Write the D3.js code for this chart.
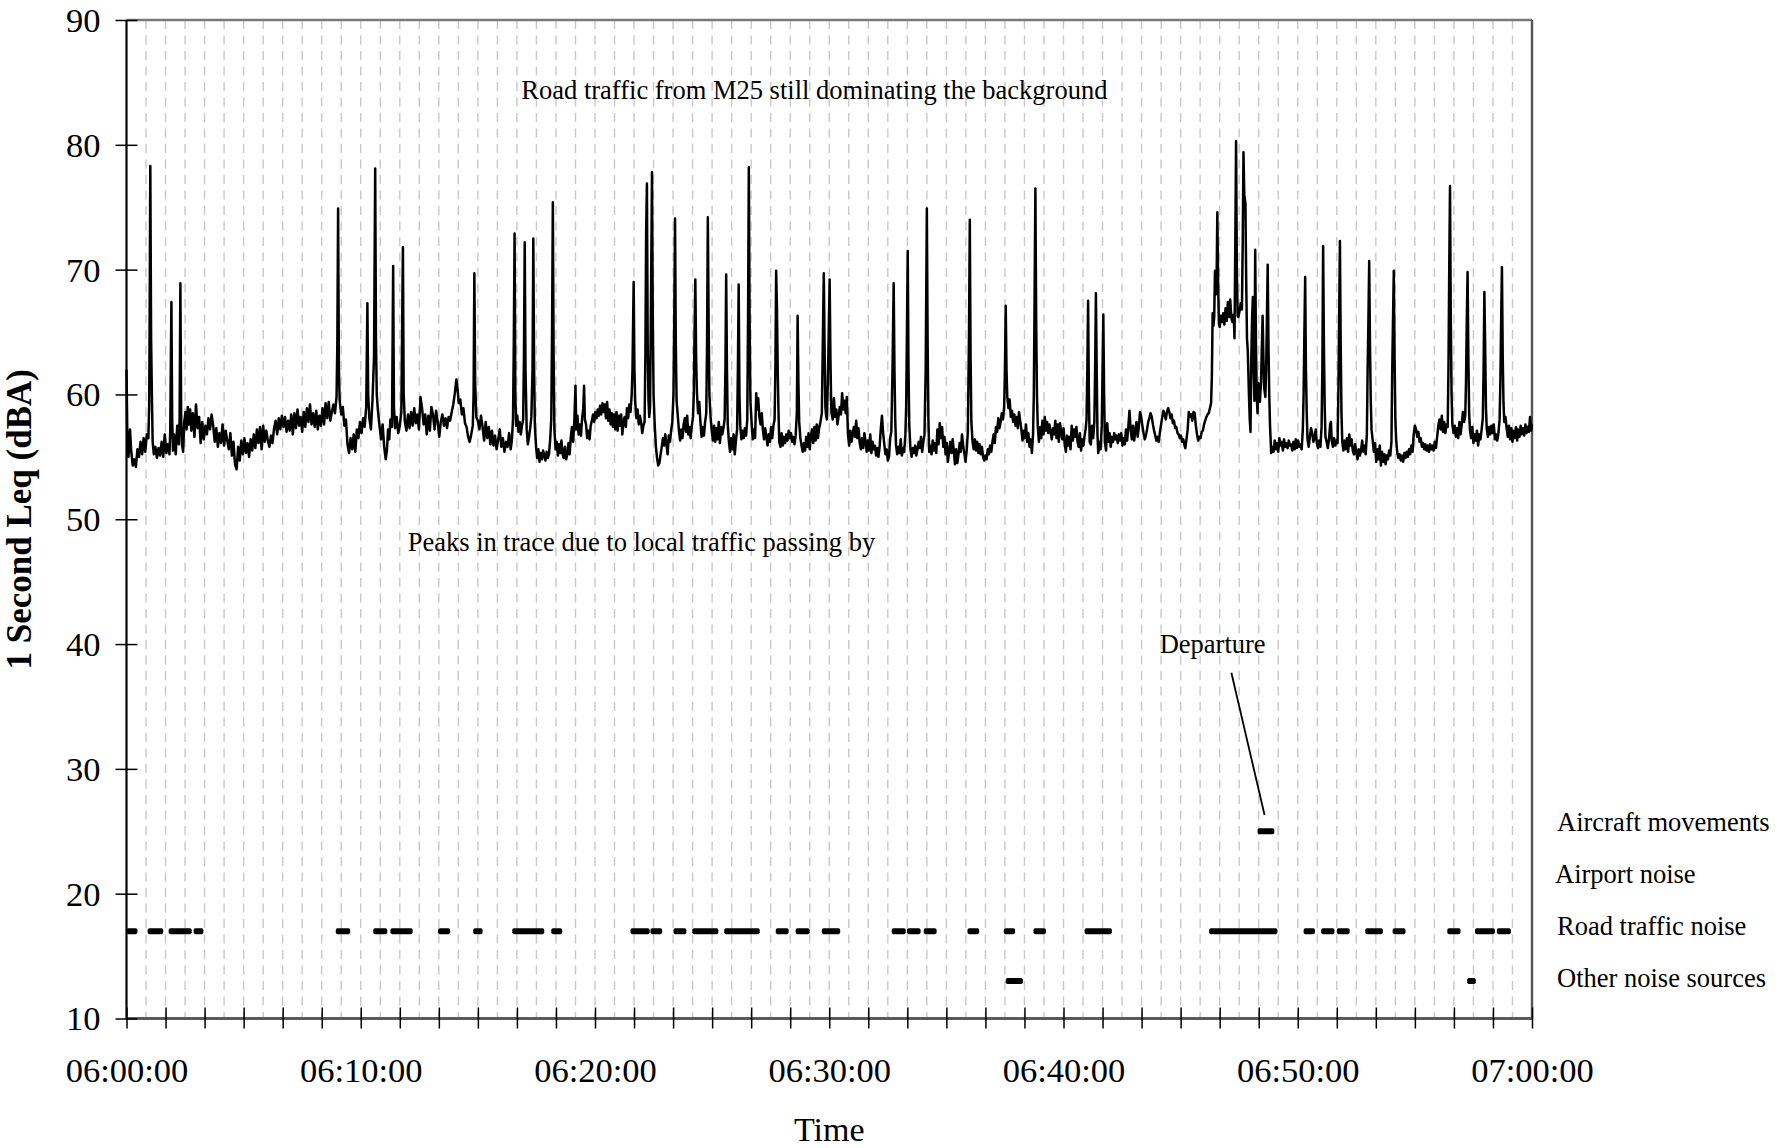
<!DOCTYPE html>
<html><head><meta charset="utf-8">
<script src="https://cdn.jsdelivr.net/npm/d3@7/dist/d3.min.js"></script>
<style>
body{margin:0;background:#fff;}
svg{display:block;}
text{font-family:"Liberation Serif","Times New Roman",serif;fill:#000;}
</style></head><body>
<svg id="chart" width="1789" height="1148"></svg>
<script>
// ---------------- DATA ----------------
const yTicks=[10,20,30,40,50,60,70,80,90];
const xTickLabels=["06:00:00","06:10:00","06:20:00","06:30:00","06:40:00","06:50:00","07:00:00"];
// 1-second Leq trace, [seconds after 06:00:00, dBA]
const leq0600=[[0,62],[2,57],[5,55],[9,57.2],[12,55.5],[16,54.3],[20,54.8],[24,54.2],[28,55.6],[32,55],[36,56.2],[40,55.2],[44,56.5],[48,55.4],[52,56.8],[56,56.5],[58,59],[59,64],[61,78.3],[63,64.5],[65,60],[67,56.2],[70,55.2],[74,55.8],[78,54.9],[82,55.7],[86,55.1],[90,56.2],[94,55],[98,56.8],[102,55.3],[106,56],[110,55.2],[112,57],[115,67.4],[117,58],[119,55.5],[122,56.8],[126,55.2],[130,57.5],[134,56],[136,58],[138,68.9],[140,58.2],[142,56],[145,55.4],[148,57.8],[151,58.6],[154,57.2],[157,59],[160,57.6],[163,58.8],[166,57.1],[170,58.5],[174,56.6],[178,59.2],[182,57.3],[186,58.2],[190,56.1],[194,57.8],[198,56.4],[202,57.5],[206,56.8],[210,58.1],[214,57.2],[218,58.4],[222,57.5],[226,56.2],[230,57.3],[234,55.8],[238,56.9],[242,56.1],[246,57.6],[250,55.9],[254,57.1],[258,56.3],[262,55.6],[266,56.9],[270,55.1],[274,56.2],[278,54.4],[282,54],[286,55.8],[290,54.7],[294,56.3],[298,55.2],[302,56.5],[306,55.3],[310,56.1],[314,55],[318,56.4],[322,55.5],[326,56.8],[330,55.7],[334,57.2],[338,56.1],[342,57.4],[346,55.6],[350,57.5],[354,56.2],[358,57.1],[362,56.3],[366,55.8],[370,56.7],[374,56.1],[378,57.3],[382,57.9],[386,56.8],[390,58.1],[394,57.2],[398,58.3],[402,57.4],[406,58.2],[410,57],[414,57.9],[418,57.1],[422,58.4],[426,56.8],[430,58.5],[434,57.3],[438,58.8],[442,57.5],[446,58.2],[450,57],[454,58.6],[458,57.4],[462,58.9],[466,57.8],[470,59.2],[474,57.6],[478,58.5],[482,57.4],[486,58.7],[490,57.2],[494,58.3],[498,57.5],[502,58.9],[506,57.6],[510,59.3],[514,58.1],[518,59.4],[522,57.9],[526,58.6],[530,59.2],[534,58.5],[538,59.8],[540,64],[542,74.9],[544,62],[546,59.5],[550,58.4],[554,59],[558,57.5],[562,58],[566,56],[570,55.3],[574,56.5],[578,55.6],[582,56.8],[586,55.4],[590,57.2],[594,56.5],[598,57.8],[602,56.9],[606,58.1],[610,57.4],[614,59],[617,67.3],[619,60],[622,58.1],[626,57.2],[630,59.5],[634,63],[637,78.1],[639,64.5],[641,60],[644,58.7],[648,57.5],[652,56.4],[656,57.6],[660,55.8],[664,54.8],[667,55.5],[670,57.2],[673,56.4],[676,58],[680,57.4],[683,70.3],[685,59],[688,57.3],[692,58.2],[696,56.9],[700,57.5],[704,58.6],[708,71.8],[710,60],[713,57.8],[717,57.1],[721,58.4],[725,57.3],[729,58.6],[733,57.5],[737,58.9],[741,57.7],[745,58.4],[749,57.2],[753,59.8],[757,58.9],[761,57.6],[765,58.4],[769,56.8],[773,58.3],[777,57.1],[781,59],[785,58.4],[789,57.2],[793,58.7],[797,57.8],[801,56.6],[805,57.8],[809,58.4],[813,57.5],[817,58.1],[821,57.3],[825,58.2],[829,57.9],[833,58.6],[837,59.2],[841,60.1],[845,61.2],[848,60.4],[851,59.3],[855,59.6],[859,58.4],[863,58.9],[867,57.7],[871,57.4],[875,56.6],[879,56.2],[883,56.8],[887,57.5],[889,60],[891,69.7],[893,61],[896,58.2]];
const leq0615=[[900,57.9],[904,57.2],[908,58.3],[912,57.4],[916,56.3],[920,57.8],[924,56.5],[928,57.4],[932,56],[936,57.1],[940,55.9],[944,56.7],[948,55.6],[952,56.4],[956,57.2],[960,55.8],[964,56.5],[968,55.4],[972,56.2],[976,55.8],[980,56.9],[984,55.6],[987,56.3],[990,58],[992,64],[994,72.9],[996,60],[998,57.5],[1001,58.3],[1004,57],[1007,57.8],[1010,56.8],[1013,57.5],[1016,58],[1018,63],[1020,72.2],[1022,62],[1025,57.2],[1028,56],[1031,56.6],[1034,57.3],[1037,58.2],[1040,62],[1042,72.5],[1044,62],[1046,57.5],[1049,55.8],[1052,54.9],[1055,55.6],[1058,54.6],[1061,55.3],[1064,54.8],[1067,55.5],[1070,55.1],[1073,54.7],[1076,55.4],[1079,54.9],[1082,55.2],[1085,56.3],[1088,58],[1090,65],[1092,75.4],[1094,63],[1096,57.2],[1099,55.6],[1102,56.2],[1105,55.1],[1108,56],[1111,55.3],[1114,56.3],[1117,55.2],[1120,54.9],[1123,55.8],[1126,54.8],[1129,55.2],[1132,56.1],[1135,55.2],[1138,56.6],[1141,57.4],[1144,56.2],[1147,57.8],[1150,60.7],[1152,57.2],[1155,58.3],[1158,56.8],[1161,57.6],[1164,56.7],[1167,58.1],[1170,58.9],[1172,60.7],[1174,58],[1177,57.6],[1180,56.5],[1183,57.1],[1186,56.4],[1189,57.5],[1192,57.9],[1195,58.4],[1198,57.8],[1201,58.6],[1204,58.1],[1207,58.8],[1210,58.3],[1213,59.1],[1216,58.4],[1219,59.3],[1222,58.6],[1225,59.2],[1228,58.1],[1231,59.4],[1234,57.9],[1237,58.8],[1240,57.6],[1243,58.5],[1246,57.4],[1249,58.4],[1252,57.2],[1255,58.6],[1258,57.1],[1261,58.3],[1264,57.5],[1267,58.4],[1270,56.8],[1273,57.8],[1276,58.2],[1279,57.4],[1282,58.9],[1285,58.1],[1288,59.2],[1291,58.6],[1294,60],[1296,62],[1299,69],[1301,62],[1303,59.4],[1306,58.1],[1309,58.8],[1312,57.6],[1315,58.3],[1318,57.8],[1321,56.9],[1324,57.5],[1327,57.8],[1329,63],[1331,73],[1333,76.9],[1335,64],[1337,59.5],[1339,58.2],[1341,59],[1343,66],[1346,77.8],[1348,66],[1350,60],[1353,57.5],[1356,55.8],[1359,54.9],[1362,54.3],[1365,54.5],[1368,55.2],[1371,55.8],[1374,56.5],[1377,55.9],[1380,56.8],[1383,56],[1386,55.2],[1389,56.7],[1392,56.2],[1395,57.1],[1398,57.8],[1401,60],[1403,66],[1405,74.1],[1407,64],[1409,59.5],[1412,58.3],[1415,57.1],[1418,56.3],[1421,57.2],[1424,56.5],[1427,57.6],[1430,58.1],[1433,57],[1436,58.3],[1439,56.8],[1442,57.4],[1445,56.5],[1448,57.5],[1451,58.2],[1453,60],[1455,65],[1457,69.2],[1459,63],[1461,60.2],[1464,58.5],[1467,59.4],[1470,57.8],[1473,56.6],[1476,57.4],[1479,56.7],[1482,57.8],[1485,58.5],[1487,64],[1489,74.2],[1491,66],[1493,60],[1496,58.2],[1499,57.1],[1502,56.3],[1505,57.5],[1508,56.2],[1511,57.3],[1514,56.4],[1517,57.8],[1520,56.1],[1523,57.4],[1526,56.8],[1529,57.3],[1532,58],[1534,62],[1536,69.6],[1538,62],[1540,57.6],[1543,56.2],[1546,55.4],[1549,56.5],[1552,55.6],[1555,56.8],[1558,55.2],[1561,56.3],[1564,57.2],[1566,62],[1568,68.8],[1570,60],[1572,57.5],[1575,56.4],[1578,57.1],[1581,56.5],[1584,57.3],[1587,56.7],[1590,58],[1592,66],[1594,78.2],[1596,66],[1598,59.5],[1601,57.8],[1604,56.4],[1607,57.2],[1610,56.5],[1613,60.1],[1615,58.8],[1618,59.7],[1621,58.2],[1624,57.6],[1627,58.5],[1630,57.2],[1633,56.4],[1636,57.3],[1639,56.6],[1642,55.9],[1645,56.8],[1648,56.2],[1651,57.4],[1654,56.5],[1657,57.5],[1660,58],[1662,62],[1664,69.9],[1666,67],[1668,62],[1670,58.6],[1672,56.2],[1675,55.8],[1678,56.9],[1681,55.9],[1684,56.6],[1687,56.1],[1690,56.8],[1693,56.3],[1696,57.1],[1699,56.5],[1702,56.9],[1705,56.2],[1708,56.6],[1711,56],[1714,56.7],[1717,58.5],[1719,66.3],[1721,61],[1723,57.8],[1726,56.5],[1729,55.9],[1732,55.4],[1735,56.1],[1738,55.5],[1741,56.6],[1744,55.8],[1747,56.9],[1750,55.6],[1753,56.7],[1756,57.2],[1759,56.1],[1762,57.4],[1765,56.3],[1768,57.6],[1771,56.5],[1774,57.3],[1777,57.7],[1781,58.5],[1783,63],[1786,69.7],[1788,64],[1790,59],[1792,58.3],[1794,58],[1797,62],[1801,69.2],[1803,63],[1805,59]];
const leq0630=[[1806,58.5],[1809,58],[1812,59.7],[1815,58.2],[1818,58.8],[1821,57.6],[1824,58.3],[1827,59],[1830,58.4],[1833,60.1],[1836,58.8],[1839,59.5],[1842,58.5],[1845,59.8],[1848,56.8],[1851,55.9],[1854,57.1],[1857,56.2],[1860,56.8],[1863,57.4],[1866,56.6],[1869,57.9],[1872,56.5],[1875,57.3],[1878,56.1],[1881,55.6],[1884,56.5],[1887,55.7],[1890,56.9],[1893,56.2],[1896,55.4],[1899,56.3],[1902,55.5],[1905,56.8],[1908,55.3],[1911,56.2],[1914,55.6],[1917,55.9],[1920,55.1],[1923,55.7],[1926,55],[1929,55.8],[1932,57.2],[1935,58.3],[1938,56.9],[1941,56],[1944,55.2],[1947,55.6],[1950,54.7],[1953,55],[1956,56.5],[1959,57],[1962,62],[1965,68.9],[1967,62],[1969,58],[1971,56],[1974,55.2],[1977,55.8],[1980,55.3],[1983,56.4],[1986,55.1],[1989,55.7],[1992,55.4],[1995,56.8],[1997,59],[1999,65],[2001,71.5],[2003,62],[2005,57.5],[2008,55.6],[2011,55],[2014,55.7],[2017,55.3],[2020,55.9],[2023,55.1],[2026,55.6],[2029,56.2],[2032,55.7],[2035,56.6],[2038,55.4],[2041,56.2],[2044,56.8],[2047,62],[2050,74.9],[2052,64],[2054,58],[2056,55.4],[2059,55.9],[2062,55.2],[2065,56.3],[2068,55.5],[2071,56.1],[2074,55.3],[2077,57.2],[2080,56],[2083,57.7],[2086,56.5],[2089,57.4],[2092,55.8],[2095,56.6],[2098,55.2],[2101,56.1],[2104,54.6],[2107,55.5],[2110,56.2],[2113,55.3],[2116,56.4],[2119,55.5],[2122,54.4],[2125,55.6],[2128,54.5],[2131,55.2],[2134,56.1],[2137,55.4],[2140,56.8],[2143,55.9],[2146,55.3],[2149,54.6],[2152,55.5],[2155,57],[2158,65],[2160,74],[2162,63],[2164,57.8],[2167,56.2],[2170,55.6],[2173,56.4],[2176,55.5],[2179,56.2],[2182,55.3],[2185,56],[2188,55.2],[2191,55.8],[2194,55],[2197,54.7],[2200,55.1],[2203,54.8],[2206,55.6],[2209,55.2],[2212,55.9],[2215,55.4],[2218,56.2],[2221,56.8],[2224,56.1],[2227,57.4],[2230,57],[2233,58.1],[2236,57.3],[2239,57.8],[2242,58.5],[2245,58],[2248,59],[2250,62],[2252,67.1],[2254,62],[2256,59.8],[2259,58.9],[2262,59.6],[2265,58.2],[2268,58.7],[2271,57.8],[2274,58.4],[2277,57.5],[2280,58.2],[2283,57.3],[2286,58.6],[2289,57.9],[2292,57.2],[2295,56.3],[2298,57.1],[2301,56.5],[2304,57.6],[2307,56.2],[2310,56.9],[2313,55.8],[2316,56.4],[2319,55.3],[2322,56.8],[2324,60],[2326,68],[2328,76.5],[2330,66],[2332,60],[2334,57.5],[2337,56.2],[2340,57.4],[2343,56.5],[2346,57.9],[2349,56.8],[2352,58.2],[2355,57.1],[2358,57.8],[2361,56.9],[2364,57.6],[2367,57],[2370,56.4],[2373,57.3],[2376,56.8],[2379,57.9],[2382,56.5],[2385,57.6],[2388,56.2],[2391,57.7],[2394,57],[2397,56.4],[2400,57.3],[2403,56.1],[2406,55.4],[2409,56.7],[2412,55.9],[2415,56.6],[2418,55.6],[2421,57.5],[2424,56.3],[2427,57.2],[2430,56.6],[2433,57.4],[2436,56.2],[2439,55.8],[2442,56.9],[2445,55.5],[2448,56.4],[2451,55.9],[2454,56.7],[2457,57.3],[2459,58],[2461,62],[2463,67.5],[2465,60],[2467,56.2],[2470,56],[2473,57.5],[2476,56.5],[2479,57.8],[2481,62],[2483,68.1],[2485,62],[2487,56.8],[2489,55.3],[2492,56.2],[2495,55.6],[2498,57.5],[2500,62],[2502,66.4],[2504,60],[2506,56.2],[2509,55.5],[2512,57.7],[2515,56.2],[2518,56.9],[2521,55.8],[2524,56.6],[2527,56.2],[2530,56.9],[2533,56.4],[2536,56.7],[2539,56.1],[2542,56.8],[2545,56.3],[2548,56.9],[2551,55.9],[2554,56.5],[2557,56],[2560,57.2],[2563,56.3],[2566,57.4],[2569,58.7],[2572,57.2],[2575,56.4],[2578,57.5],[2581,56.3],[2584,57.1],[2587,57.8],[2590,56.6],[2593,57.4],[2596,58.6],[2599,58.2],[2602,57.5],[2605,56.9],[2608,56.4],[2611,56.7],[2614,57.2],[2617,57.8],[2620,58.1],[2623,58.5],[2626,58.2],[2629,57.6],[2632,57.1],[2635,56.7],[2638,56.3],[2641,56.6],[2644,56.2],[2647,57],[2650,57.6],[2653,58.2],[2656,58.7],[2659,58.4],[2662,58],[2665,58.6],[2668,58.9]];
const leq0645=[[2671,58.6],[2674,58.1],[2677,58.4],[2680,57.7],[2683,57.9],[2686,57.3],[2689,57.4],[2692,56.9],[2695,56.8],[2698,56.5],[2701,56.7],[2704,56.2],[2707,56.4],[2710,55.9],[2712,55.7],[2715,56.4],[2718,57.2],[2721,58.6],[2724,58.2],[2727,58.4],[2730,57.9],[2733,58.6],[2736,58.5],[2739,57.5],[2742,56.8],[2745,56.3],[2748,56.6],[2751,56.5],[2754,57],[2757,57.1],[2760,57.6],[2763,57.9],[2766,58.2],[2769,58.4],[2772,58.5],[2775,58.9],[2778,59.3],[2780,61.4],[2782,66.5],[2784,65.5],[2786,66.2],[2788,69.9],[2790,68],[2792,68.6],[2794,74.6],[2796,69],[2798,65.7],[2800,65.4],[2803,66.3],[2806,65.8],[2809,66.5],[2812,65.6],[2815,66.9],[2818,65.9],[2821,67.4],[2824,66.2],[2827,67.6],[2830,66.1],[2833,65.8],[2836,66.4],[2838,64.5],[2840,72],[2842,80.3],[2844,70],[2846,66.3],[2848,66.2],[2851,66.7],[2854,67.3],[2857,66.8],[2859,72],[2861,79.4],[2863,76],[2866,75.3],[2868,69],[2870,64.5],[2872,63.5],[2875,60],[2877,58],[2879,57],[2881,63],[2883,66],[2885,67.8],[2887,62],[2889,59.5],[2891,71.6],[2893,64],[2895,59.8],[2897,58.5],[2899,60.9],[2901,60],[2903,59.4],[2906,61],[2908,63.8],[2910,66.3],[2912,63],[2914,60.5],[2917,59.8],[2919,62],[2921,66],[2923,70.4],[2925,64],[2927,60],[2929,57.5],[2932,55.3],[2935,55.8],[2938,55.4],[2941,56.3],[2944,55.6],[2947,56.1],[2950,55.4],[2953,56.5],[2956,55.9],[2959,56.2],[2962,55.5],[2965,56.4],[2968,55.8],[2971,56.1],[2974,55.7],[2977,56.3],[2980,55.9],[2983,56],[2986,55.5],[2989,56.2],[2992,55.6],[2995,56.4],[2998,55.7],[3001,56.3],[3004,55.8],[3007,56],[3010,55.6],[3013,57.2],[3015,60],[3017,65],[3019,69.4],[3021,62],[3023,58.5],[3025,56.4],[3028,55.8],[3031,56.6],[3034,57.3],[3037,56.9],[3040,56.2],[3043,56.5],[3046,57.2],[3049,56.1],[3052,55.7],[3055,56.3],[3058,55.8],[3061,57.4],[3063,62],[3065,71.9],[3067,64],[3069,59],[3071,56.6],[3074,56.2],[3077,55.7],[3080,56.4],[3083,57.6],[3085,57.8],[3087,56.3],[3090,55.8],[3093,56.5],[3096,55.9],[3099,56.3],[3102,56.1],[3104,60],[3106,66],[3108,72.3],[3110,64],[3112,58.5],[3114,56.2],[3117,55.5],[3120,56.3],[3123,55.6],[3126,56.5],[3129,55.4],[3132,56.8],[3135,55.9],[3138,56.4],[3141,55.5],[3144,55.2],[3147,56],[3150,55.4],[3153,54.8],[3156,55.6],[3159,55.1],[3162,55.5],[3165,56.3],[3168,55.4],[3171,55.9],[3174,55.2],[3177,56.8],[3179,62],[3181,66],[3183,70.7],[3185,64],[3187,59.5],[3189,57.2],[3192,56.3],[3195,55.4],[3198,56.1],[3201,54.6],[3204,55.6],[3207,54.8],[3210,55.9],[3213,54.3],[3216,55.4],[3219,54.6],[3222,55.2],[3225,54.4],[3228,55.1],[3231,54.8],[3234,55.5],[3237,55.1],[3240,56.2],[3242,62],[3244,66],[3246,69.9],[3248,63],[3250,58],[3252,56.4],[3255,55.3],[3258,54.9],[3261,55.2],[3264,54.7],[3267,55.1],[3270,54.6],[3273,55.3],[3276,54.9],[3279,55.4],[3282,55],[3285,55.6],[3288,55.2],[3291,55.9],[3294,55.4],[3297,56.8],[3300,57.5],[3303,57.2],[3306,56.6],[3309,57],[3312,56.2],[3315,56.5],[3318,55.8],[3321,56.1],[3324,55.6],[3327,56],[3330,55.5],[3333,55.9],[3336,55.4],[3339,56],[3342,55.6],[3345,55.9],[3348,55.5],[3351,56.2],[3354,55.7],[3357,56.6],[3360,57.5],[3363,58],[3366,57.2],[3369,58.3],[3372,57],[3375,57.8],[3378,56.9],[3381,57.6],[3384,57.4],[3386,62],[3388,70],[3390,76.7],[3392,66],[3394,60],[3396,57.6],[3399,56.9],[3402,57.5],[3405,56.6],[3408,57.3],[3411,56.5],[3414,57.8],[3417,56.8],[3420,57.6],[3423,58.6],[3426,57.8],[3429,58.3],[3431,61],[3433,66],[3435,69.8],[3437,63],[3439,58.5],[3441,57.2],[3444,56.5],[3447,57.4],[3450,56.1],[3453,56.8],[3456,56.3],[3459,57.1],[3462,55.9],[3465,56.8],[3468,56.4],[3471,57.2],[3474,58.1],[3476,62],[3478,68.2],[3480,64],[3482,59],[3484,57.3],[3487,56.6],[3490,57.4],[3493,56.8],[3496,57.5],[3499,56.9],[3502,57.6],[3505,56.4],[3508,56.8],[3511,56.3],[3514,56.9],[3517,58],[3519,61],[3521,66],[3523,70.2],[3525,63],[3527,59.3],[3529,57.8],[3532,58.2],[3535,57.3],[3538,56.6],[3541,57.5],[3544,56.4],[3547,57.3],[3550,56.2],[3553,57.1],[3556,56.5],[3559,57.4],[3562,56.3],[3565,57.2],[3568,56.6],[3571,57.5],[3574,56.8],[3577,57.3],[3580,56.7],[3583,57.6],[3586,56.9],[3589,57.4],[3592,57],[3595,58.2],[3598,57.1],[3600,57.6]];

// noise-source identification periods [start s, end s]
const aircraftMovements=[[2897,2940]];
const airportNoise=[];
const roadTrafficNoise=[[0,28],[54,94],[108,167],[172,197],[536,573],[632,668],[676,733],[798,829],[888,912],[988,1070],[1088,1116],[1291,1340],[1342,1372],[1401,1434],[1449,1516],[1531,1622],[1663,1696],[1714,1750],[1781,1828],[1960,1996],[1999,2034],[2042,2075],[2154,2184],[2247,2276],[2323,2355],[2454,2524],[2773,2948],[3015,3044],[3060,3094],[3100,3133],[3173,3218],[3243,3276],[3383,3417],[3454,3505],[3510,3546]];
const otherNoiseSources=[[2252,2296],[3434,3456]];
const sourceNames=["Aircraft movements","Airport noise","Road traffic noise","Other noise sources"];
const sourceLevels=[25,21,17,13];
const sourcePeriods=[aircraftMovements,airportNoise,roadTrafficNoise,otherNoiseSources];

// ---------------- CHART ----------------
const FONT='"Liberation Serif","Times New Roman",serif';
const svg=d3.select("#chart");
const x=d3.scaleLinear().domain([0,3600]).range([126.5,1532]);
const y=d3.scaleLinear().domain([10,90]).range([1018.5,20]);

// vertical dashed gridlines every 50 s
svg.append("g").selectAll("line").data(d3.range(50,3600,50)).join("line")
  .attr("x1",d=>x(d)).attr("x2",d=>x(d)).attr("y1",y(90)).attr("y2",y(10))
  .attr("stroke","#c8c8c8").attr("stroke-width",1.4).attr("stroke-dasharray","9,6.5");

// frame
svg.append("line").attr("x1",x(0)).attr("x2",x(3600)).attr("y1",y(90)).attr("y2",y(90)).attr("stroke","#7a7a7a").attr("stroke-width",2.6);
svg.append("line").attr("x1",x(3600)).attr("x2",x(3600)).attr("y1",y(90)).attr("y2",y(10)).attr("stroke","#555").attr("stroke-width",2.4);
svg.append("line").attr("x1",x(0)).attr("x2",x(3600)).attr("y1",y(10)).attr("y2",y(10)).attr("stroke","#5a5a5a").attr("stroke-width",2.8);
svg.append("line").attr("x1",x(0)).attr("x2",x(0)).attr("y1",y(90)).attr("y2",y(10)).attr("stroke","#000").attr("stroke-width",2.2);

// trace
const trace=leq0600.concat(leq0615,leq0630,leq0645);
svg.append("path").datum(trace)
  .attr("d",d3.line().x(d=>x(d[0])).y(d=>y(d[1])))
  .attr("fill","none").attr("stroke","#000").attr("stroke-width",2.5)
  .attr("stroke-linejoin","round");

// source bars
sourcePeriods.forEach((periods,i)=>{
  svg.append("g").selectAll("rect").data(periods).join("rect")
    .attr("x",d=>x(d[0])).attr("width",d=>x(d[1])-x(d[0]))
    .attr("y",y(sourceLevels[i])-3).attr("height",6).attr("rx",1.8)
    .attr("fill","#000");
});

// axes
const xAxis=d3.axisBottom(x).tickValues(d3.range(0,3601,100))
  .tickFormat(d=> d%600===0 ? xTickLabels[d/600] : "");
const gx=svg.append("g").attr("transform",`translate(0,${y(10)})`).call(xAxis);
gx.attr("font-family",FONT).attr("font-size",34.5);
gx.select(".domain").remove();
gx.selectAll(".tick line").attr("y1",-11).attr("y2",10).attr("stroke","#000").attr("stroke-width",1.5);
gx.selectAll(".tick text").attr("y",63).attr("dy",null).attr("fill","#000");

const yAxis=d3.axisLeft(y).tickValues(yTicks).tickFormat(d3.format("d"));
const gy=svg.append("g").attr("transform",`translate(${x(0)},0)`).call(yAxis);
gy.attr("font-family",FONT).attr("font-size",34.5);
gy.select(".domain").remove();
gy.selectAll(".tick line").attr("x1",-11).attr("x2",11).attr("stroke","#000").attr("stroke-width",1.5);
gy.selectAll(".tick text").attr("x",-26).attr("dy","0.33em").attr("fill","#000");

// axis titles
svg.append("text").attr("x",(x(0)+x(3600))/2).attr("y",1141)
  .attr("text-anchor","middle").attr("font-size",34).text("Time");
svg.append("text").attr("transform",`translate(31,${(y(10)+y(90))/2}) rotate(-90)`)
  .attr("text-anchor","middle").attr("font-size",35).attr("font-weight","bold")
  .text("1 Second Leq (dBA)");

// annotations
svg.append("text").attr("x",x(1762)).attr("y",99).attr("text-anchor","middle")
  .attr("font-size",26.5).text("Road traffic from M25 still dominating the background");
svg.append("text").attr("x",x(1319)).attr("y",551).attr("text-anchor","middle")
  .attr("font-size",26.5).text("Peaks in trace due to local traffic passing by");
svg.append("text").attr("x",x(2782)).attr("y",653).attr("text-anchor","middle")
  .attr("font-size",26.5).text("Departure");
svg.append("line").attr("x1",x(2830)).attr("y1",y(37.7)).attr("x2",x(2915)).attr("y2",y(26.3))
  .attr("stroke","#000").attr("stroke-width",1.8);

// source labels at right (evenly spaced list beside the plot)
svg.append("g").selectAll("text").data(sourceNames).join("text")
  .attr("x",(d,i)=> i===1 ? 1555 : 1557)
  .attr("y",(d,i)=>y(sourceLevels[0])+i*51.8)
  .attr("font-size",26.5).text(d=>d);
</script>
</body></html>
